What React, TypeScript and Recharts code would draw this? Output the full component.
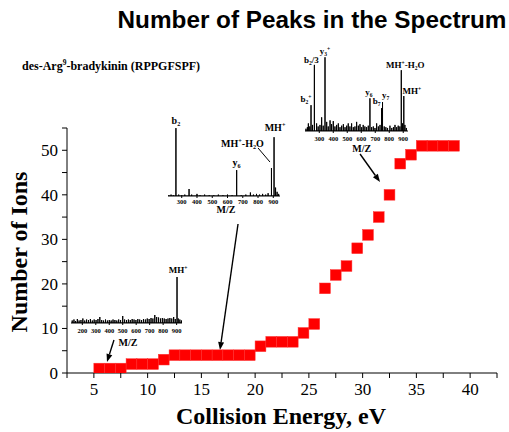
import React from 'react'
import {
  ScatterChart,
  Scatter,
  ComposedChart,
  Line,
  XAxis,
  YAxis,
  ReferenceLine,
  ReferenceDot
} from 'recharts'

const SERIF = '"Liberation Serif", "Times New Roman", Times, serif'
const SANS = '"Liberation Sans", Arial, Helvetica, sans-serif'

// collision energy (eV) vs number of ions
const energy = [5.5, 6.5, 7.5, 8.5, 9.5, 10.5, 11.5, 12.5, 13.5, 14.5, 15.5, 16.5, 17.5, 18.5, 19.5, 20.5, 21.5, 22.5, 23.5, 24.5, 25.5, 26.5, 27.5, 28.5, 29.5, 30.5, 31.5, 32.5, 33.5, 34.5, 35.5, 36.5, 37.5, 38.5]
const ions = [1, 1, 1, 2, 2, 2, 3, 4, 4, 4, 4, 4, 4, 4, 4, 6, 7, 7, 7, 9, 11, 19, 22, 24, 28, 31, 35, 40, 47, 49, 51, 51, 51, 51]

const xTicks = [2.5, 5, 7.5, 10, 12.5, 15, 17.5, 20, 22.5, 25, 27.5, 30, 32.5, 35, 37.5, 40, 42.5]
const yTicks = [0, 5, 10, 15, 20, 25, 30, 35, 40, 45, 50, 55]
const mzTicksLow = [200, 300, 400, 500, 600, 700, 800, 900]
const mzTicks = [300, 400, 500, 600, 700, 800, 900]

// arrows from the inset spectra to their points (energy, ions)
const arrows = [
  { from: [6.87, 7.41], to: [6.22, 2.47] },
  { from: [18.41, 33.45], to: [16.73, 5.16] },
  { from: [29.76, 49.16], to: [31.62, 42.87] }
]

// inset spectra: [m/z, relative intensity]
const lowPeaks = [
  [125, 5], [138, 7], [150, 4], [163, 8], [176, 5], [190, 6], [204, 9], [218, 5], [232, 7], [246, 6],
  [260, 8], [274, 5], [288, 7], [302, 6], [316, 8], [330, 12], [344, 6], [358, 5], [372, 7], [386, 5],
  [400, 6], [414, 5], [428, 7], [442, 6], [456, 5], [470, 7], [484, 6], [500, 14], [514, 7], [528, 6],
  [542, 7], [556, 6], [570, 8], [584, 7], [598, 6], [612, 8], [626, 7], [640, 6], [654, 8], [668, 7],
  [682, 9], [696, 8], [710, 10], [724, 9], [738, 16], [752, 12], [766, 11], [780, 9], [794, 10], [808, 9],
  [822, 8], [836, 9], [850, 10], [864, 9], [878, 12], [890, 8], [903, 92], [912, 9], [924, 7], [936, 5]
]
const midPeaks = [
  [215, 1], [230, 2], [245, 1], [262, 97], [280, 2], [300, 1], [320, 2], [348, 10], [365, 2], [400, 3],
  [420, 1], [450, 2], [480, 1], [510, 1], [540, 2], [570, 1], [600, 2], [630, 1], [660, 37], [690, 1],
  [720, 2], [750, 5], [770, 2], [790, 3], [810, 2], [830, 3], [850, 2], [866, 4], [888, 40], [905, 84],
  [915, 12], [925, 6], [935, 3]
]
const highPeaks = [
  [205, 3], [215, 5], [222, 10], [232, 6], [241, 34], [252, 8], [265, 87], [281, 10], [292, 6], [305, 8],
  [317, 18], [328, 7], [341, 97], [353, 12], [364, 6], [377, 14], [388, 9], [400, 13], [412, 6], [424, 8],
  [436, 10], [448, 5], [460, 7], [472, 9], [484, 5], [496, 7], [507, 10], [519, 6], [531, 10], [543, 5],
  [555, 6], [567, 12], [579, 7], [591, 9], [603, 5], [614, 8], [626, 6], [638, 5], [650, 7], [662, 43],
  [674, 5], [686, 6], [698, 4], [710, 10], [722, 6], [734, 8], [745, 30], [752, 38], [764, 6], [776, 5],
  [788, 4], [805, 7], [818, 4], [830, 5], [841, 8], [853, 5], [864, 7], [876, 6], [886, 80], [895, 10],
  [904, 46], [912, 8], [922, 4]
]

const lowLabels = [{ mz: 903, v: 92, text: 'MH^+', dx: 1, dy: -4 }]
const midLabels = [
  { mz: 262, v: 97, text: 'b_2', dx: 0, dy: -4 },
  { mz: 660, v: 37, text: 'y_6', dx: 0, dy: -4 },
  { mz: 888, v: 40, text: 'MH^+-H_2O', dx: -29, dy: -21 },
  { mz: 905, v: 84, text: 'MH^+', dx: 1, dy: -6 }
]
const highLabels = [
  { mz: 241, v: 34, text: 'b_2^+', dx: -5, dy: -3 },
  { mz: 265, v: 87, text: 'b_2/3', dx: -3, dy: -2 },
  { mz: 341, v: 97, text: 'y_3^+', dx: 0, dy: -3 },
  { mz: 662, v: 43, text: 'y_6', dx: -1, dy: -3 },
  { mz: 745, v: 30, text: 'b_7', dx: -5, dy: -4 },
  { mz: 752, v: 38, text: 'y_7', dx: 3, dy: -4 },
  { mz: 886, v: 80, text: 'MH^+-H_2O', dx: 4, dy: -2 },
  { mz: 904, v: 46, text: 'MH^+', dx: 8, dy: -2 }
]

const points = energy.map((x, i) => ({ x, y: ions[i] }))

const toSticks = (peaks: number[][]) =>
  [...peaks]
    .sort((a, b) => a[0] - b[0])
    .flatMap(([mz, h]) => [{ mz, v: 0 }, { mz, v: h }, { mz, v: 0 }])

// text with ^x superscript and _x subscript
function Rich({ x, y, text, size, anchor = 'middle', family = SERIF }: any) {
  const parts: { t: string; m: string }[] = []
  let buf = ''
  for (let i = 0; i < text.length; i++) {
    const c = text[i]
    if ((c === '^' || c === '_') && i + 1 < text.length) {
      if (buf) parts.push({ t: buf, m: '' })
      buf = ''
      parts.push({ t: text[i + 1], m: c })
      i++
    } else buf += c
  }
  if (buf) parts.push({ t: buf, m: '' })
  let shift = 0
  return (
    <text x={x} y={y} fontSize={size} fontFamily={family} fontWeight="bold" textAnchor={anchor} fill="#000">
      {parts.map((p, k) => {
        const target = p.m === '^' ? -0.38 * size : p.m === '_' ? 0.22 * size : 0
        const dy = target - shift
        shift = target
        return (
          <tspan key={k} dy={dy} fontSize={p.m ? size * 0.62 : size}>
            {p.t}
          </tspan>
        )
      })}
    </text>
  )
}

const Arrow = (p: any) => {
  const { x1, y1, x2, y2 } = p
  const a = Math.atan2(y2 - y1, x2 - x1)
  const L = 8
  const W = 3
  const bx = x2 - L * Math.cos(a)
  const by = y2 - L * Math.sin(a)
  const nx = -Math.sin(a) * W
  const ny = Math.cos(a) * W
  return (
    <g>
      <line x1={x1} y1={y1} x2={bx} y2={by} stroke="#000" strokeWidth={1.4} />
      <polygon points={`${x2},${y2} ${bx + nx},${by + ny} ${bx - nx},${by - ny}`} fill="#000" />
    </g>
  )
}

// side room so peak labels are not cut by the inset's own svg
const SIDE_L = 14
const SIDE_R = 26

function Spectrum({ peaks, labels, ticks, domain, left, top, width, plotH, labelSize, tickDy, mzAt, mzDy, connector }: any) {
  const pad = 12
  return (
    <div style={{ position: 'absolute', left: left - SIDE_L, top }}>
      <ComposedChart
        width={width + SIDE_L + SIDE_R}
        height={pad + plotH + 30}
        data={toSticks(peaks)}
        margin={{ top: pad, right: SIDE_R, left: SIDE_L, bottom: 0 }}
      >
        <XAxis
          type="number"
          dataKey="mz"
          domain={domain}
          ticks={ticks}
          interval={0}
          allowDataOverflow
          height={30}
          tickSize={2}
          tickMargin={2}
          axisLine={{ stroke: '#000' }}
          tickLine={{ stroke: '#000' }}
          tick={(t: any) => (
            <text x={t.x} y={t.y + tickDy} fontSize={6.5} fontFamily={SERIF} fontWeight="bold" textAnchor="middle" fill="#000">
              {t.payload.value}
            </text>
          )}
        />
        <YAxis hide width={0} domain={[0, 100]} allowDataOverflow />
        <Line type="linear" dataKey="v" stroke="#000" strokeWidth={1} dot={false} isAnimationActive={false} />
        {connector && (
          <ReferenceLine
            segment={[{ x: connector[0], y: connector[1] }, { x: connector[2], y: connector[3] }]}
            stroke="#000"
            strokeWidth={1}
          />
        )}
        {labels.map((l: any, i: number) => (
          <ReferenceDot
            key={i}
            x={l.mz}
            y={l.v}
            r={0}
            ifOverflow="visible"
            shape={(p: any) => <Rich x={p.cx + l.dx} y={p.cy + l.dy} text={l.text} size={labelSize} />}
          />
        ))}
        <ReferenceDot
          x={mzAt}
          y={0}
          r={0}
          ifOverflow="visible"
          shape={(p: any) => <Rich x={p.cx} y={p.cy + mzDy} text="M/Z" size={10} />}
        />
      </ComposedChart>
    </div>
  )
}

export default function App() {
  return (
    <div style={{ position: 'absolute', left: 0, top: 0, width: 509, height: 432, background: '#fff' }}>
      <ScatterChart width={509} height={432} margin={{ top: 128, right: 12, bottom: 0, left: 0 }}>
        <XAxis
          type="number"
          dataKey="x"
          domain={[2.5, 42.5]}
          ticks={xTicks}
          interval={0}
          allowDataOverflow
          height={59}
          tickSize={5}
          tickMargin={5}
          axisLine={{ stroke: '#000' }}
          tickLine={{ stroke: '#000' }}
          tick={{ fontSize: 17, fill: '#000', fontFamily: SERIF }}
          tickFormatter={(v: number) => (v % 5 === 0 ? String(v) : '')}
        />
        <YAxis
          type="number"
          dataKey="y"
          domain={[0, 55]}
          ticks={yTicks}
          interval={0}
          allowDataOverflow
          width={67}
          tickSize={5}
          tickMargin={4}
          axisLine={{ stroke: '#000' }}
          tickLine={{ stroke: '#000' }}
          tick={{ fontSize: 17, fill: '#000', fontFamily: SERIF }}
          tickFormatter={(v: number) => (v % 10 === 0 ? String(v) : '')}
        />
        <Scatter
          data={points}
          isAnimationActive={false}
          shape={(p: any) => (
            <rect x={p.cx - 5.4} y={p.cy - 5.35} width={10.8} height={10.7} fill="#ff0000" stroke="#ff3030" strokeWidth={0.5} />
          )}
        />
        {arrows.map((a, i) => (
          <ReferenceLine
            key={i}
            segment={[{ x: a.from[0], y: a.from[1] }, { x: a.to[0], y: a.to[1] }]}
            shape={Arrow}
          />
        ))}
      </ScatterChart>

      <Spectrum
        peaks={lowPeaks}
        labels={lowLabels}
        ticks={mzTicksLow}
        domain={[116, 940]}
        left={71}
        top={261}
        width={111}
        plotH={50}
        labelSize={9}
        tickDy={6}
        mzAt={539}
        mzDy={22.5}
      />
      <Spectrum
        peaks={midPeaks}
        labels={midLabels}
        ticks={mzTicks}
        domain={[210, 944]}
        left={168}
        top={114}
        width={112}
        plotH={70}
        labelSize={10}
        tickDy={3.5}
        mzAt={590}
        mzDy={17}
        connector={[800, 68.6, 878, 48.6]}
      />
      <Spectrum
        peaks={highPeaks}
        labels={highLabels}
        ticks={mzTicks}
        domain={[198, 934]}
        left={305}
        top={43}
        width={103}
        plotH={76}
        labelSize={9}
        tickDy={5.6}
        mzAt={603}
        mzDy={21}
      />

      <svg width={509} height={432} style={{ position: 'absolute', left: 0, top: 0, pointerEvents: 'none' }}>
        <text x={312} y={28} fontSize={24.3} fontWeight="bold" fontFamily={SANS} textAnchor="middle" fill="#000">
          Number of Peaks in the Spectrum
        </text>
        <Rich x={22} y={70} text="des-Arg^9-bradykinin (RPPGFSPF)" size={12} anchor="start" />
        <text x={281} y={424} fontSize={24} fontWeight="bold" fontFamily={SERIF} textAnchor="middle" fill="#000">
          Collision Energy, eV
        </text>
        <text
          x={27}
          y={252}
          transform="rotate(-90, 27, 252)"
          fontSize={24}
          fontWeight="bold"
          fontFamily={SERIF}
          textAnchor="middle"
          fill="#000"
        >
          Number of Ions
        </text>
      </svg>
    </div>
  )
}
